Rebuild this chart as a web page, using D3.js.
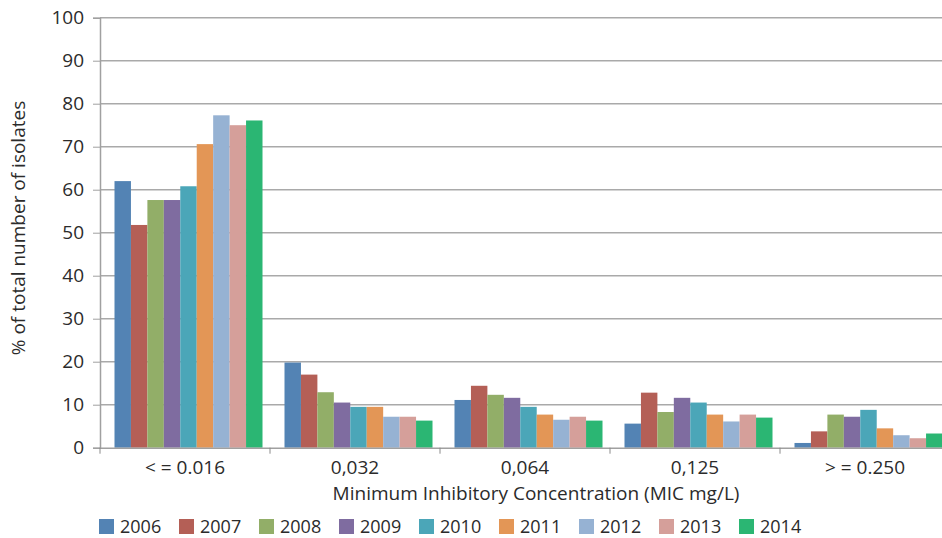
<!DOCTYPE html>
<html>
<head>
<meta charset="utf-8">
<script src="https://cdn.jsdelivr.net/npm/d3@7"></script>
<style>
  body { margin: 0; background: #fff; }
  svg text { font-family: "Open Sans", "Noto Sans", sans-serif; fill: #2b2b2b; }
</style>
</head>
<body>
<svg id="chart"></svg>
<script>
// categories on the x axis
const categories = ["< = 0.016", "0,032", "0,064", "0,125", "> = 0.250"];
const years = ["2006", "2007", "2008", "2009", "2010", "2011", "2012", "2013", "2014"];
const yTicks = [0, 10, 20, 30, 40, 50, 60, 70, 80, 90, 100];

// % of isolates per year, one value per category
const v2006 = [62.0, 19.8, 11.1, 5.6, 1.1];
const v2007 = [51.8, 17.0, 14.4, 12.8, 3.8];
const v2008 = [57.6, 12.9, 12.3, 8.3, 7.7];
const v2009 = [57.6, 10.5, 11.6, 11.6, 7.2];
const v2010 = [60.8, 9.5, 9.5, 10.5, 8.8];
const v2011 = [70.6, 9.5, 7.7, 7.7, 4.5];
const v2012 = [77.3, 7.2, 6.5, 6.1, 2.9];
const v2013 = [75.0, 7.2, 7.2, 7.7, 2.2];
const v2014 = [76.1, 6.3, 6.3, 7.0, 3.3];

const seriesValues = [v2006, v2007, v2008, v2009, v2010, v2011, v2012, v2013, v2014];
const colors = ["#5383b4", "#b45f56", "#92ae68", "#7f6ca0", "#4ba6b8",
                "#e39656", "#96b2d3", "#d59f9a", "#2bb673"];

const width = 942, height = 538;
const fontSize = "19px";

const svg = d3.select("#chart")
    .attr("width", width)
    .attr("height", height);

// scales
const x0 = d3.scaleBand().domain(categories).range([100, 950]);
const x1 = d3.scaleBand().domain(years).range([14.5, 162.5]);
const y = d3.scaleLinear().domain([0, 100]).range([447.7, 17.7]);
const color = d3.scaleOrdinal().domain(years).range(colors);

// gridlines
svg.append("g")
    .selectAll("line")
    .data(yTicks.filter(d => d > 0))
    .join("line")
    .attr("x1", 100).attr("x2", width)
    .attr("y1", d => y(d)).attr("y2", d => y(d))
    .attr("stroke", "#a9a9a9")
    .attr("stroke-width", 1.5);

// bars
const rows = categories.map((c, i) => ({
    cat: c,
    vals: years.map((yr, j) => ({ year: yr, value: seriesValues[j][i] }))
}));

svg.append("g")
    .selectAll("g")
    .data(rows)
    .join("g")
    .attr("transform", d => `translate(${x0(d.cat)},0)`)
    .selectAll("rect")
    .data(d => d.vals)
    .join("rect")
    .attr("x", d => x1(d.year))
    .attr("y", d => y(d.value))
    .attr("width", x1.bandwidth())
    .attr("height", d => y(0) - y(d.value))
    .attr("fill", d => color(d.year));

// y axis
const yAxis = svg.append("g")
    .attr("transform", "translate(100,0)")
    .call(d3.axisLeft(y).tickValues(yTicks).tickSize(7).tickPadding(9));
yAxis.select(".domain").attr("stroke", "#a0a0a0").attr("stroke-width", 1.5);
yAxis.selectAll(".tick line").attr("stroke", "#a0a0a0");
yAxis.selectAll(".tick text")
    .style("font-size", fontSize)
    .attr("fill", "#2b2b2b");

// x axis
const xAxis = svg.append("g")
    .attr("transform", `translate(0,${y(0)})`)
    .call(d3.axisBottom(x0).tickSize(0).tickPadding(13));
xAxis.select(".domain").attr("stroke", "#a0a0a0").attr("stroke-width", 1.5);
xAxis.selectAll(".tick text")
    .style("font-size", fontSize)
    .attr("fill", "#2b2b2b");

// category boundary ticks
svg.append("g")
    .selectAll("line")
    .data(categories.concat(["end"]))
    .join("line")
    .attr("x1", (d, i) => 100 + i * x0.bandwidth())
    .attr("x2", (d, i) => 100 + i * x0.bandwidth())
    .attr("y1", y(0)).attr("y2", y(0) + 6)
    .attr("stroke", "#8a8a8a");

// axis titles
svg.append("text")
    .attr("transform", "translate(25,228) rotate(-90)")
    .attr("text-anchor", "middle")
    .style("font-size", fontSize)
    .text("% of total number of isolates");

svg.append("text")
    .attr("x", 536)
    .attr("y", 500)
    .attr("text-anchor", "middle")
    .style("font-size", fontSize)
    .text("Minimum Inhibitory Concentration (MIC mg/L)");

// legend
const legend = svg.append("g")
    .selectAll("g")
    .data(years)
    .join("g")
    .attr("transform", (d, i) => `translate(${99 + i * 80},519)`);

legend.append("rect")
    .attr("width", 15)
    .attr("height", 15)
    .attr("fill", d => color(d));

legend.append("text")
    .attr("x", 21)
    .attr("y", 14)
    .style("font-size", "18px")
    .text(d => d);
</script>
</body>
</html>
